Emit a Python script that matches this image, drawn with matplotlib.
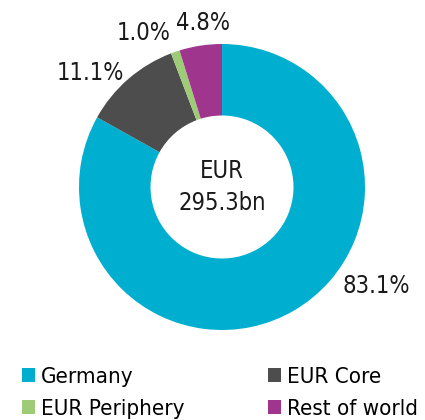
import matplotlib
matplotlib.use("Agg")
import matplotlib.pyplot as plt
from matplotlib.patches import Patch

plt.rcParams['font.family'] = ['DejaVu Sans']
plt.rcParams['font.stretch'] = 'condensed'

# ====== data ======
regions = ['Germany', 'EUR Core', 'EUR Periphery', 'Rest of world']
shares = [83.1, 11.1, 1.0, 4.8]
colors = ['#00AECF', '#4D4D4D', '#9DCB76', '#A0358E']
total_label = 'EUR\n295.3bn'

fig = plt.figure(figsize=(4.25, 4.2), dpi=100)
ax = fig.add_axes([0, 0, 1, 1])

wedges, _ = ax.pie(shares, colors=colors, startangle=90, counterclock=False,
                   radius=1.0, wedgeprops=dict(width=0.5, edgecolor='none'))

# percentage labels placed by hand around the ring
label_pos = [(1.08, -0.69), (-0.92, 0.80), (-0.55, 1.08), (-0.13, 1.15)]
for val, (lx, ly) in zip(shares, label_pos):
    ax.text(lx, ly, f'{val:.1f}%', ha='center', va='center', fontsize=17, color='#1a1a1a')

ax.text(0, 0, total_label, ha='center', va='center', fontsize=17,
        linespacing=1.4, color='#1a1a1a')

# 143 px per data unit, centre at (222, 187) px from top-left
ax.set_xlim(-222 / 143, (425 - 222) / 143)
ax.set_ylim(-233 / 143, (420 - 233) / 143)
ax.axis('off')

handles = [Patch(facecolor=c, edgecolor='none') for c in colors]
leg_kw = dict(loc='upper left', frameon=False, fontsize=16, handlelength=0.6,
              handleheight=0.6, handletextpad=0.28, labelspacing=0.55,
              borderpad=0, borderaxespad=0)
# two columns drawn as two legends so each column sits where the reference has it
fig.legend([handles[0], handles[2]], [regions[0], regions[2]],
           bbox_to_anchor=(0.051, 0.127), **leg_kw)
fig.legend([handles[1], handles[3]], [regions[1], regions[3]],
           bbox_to_anchor=(0.630, 0.127), **leg_kw)

fig.savefig('out.png', dpi=100)
